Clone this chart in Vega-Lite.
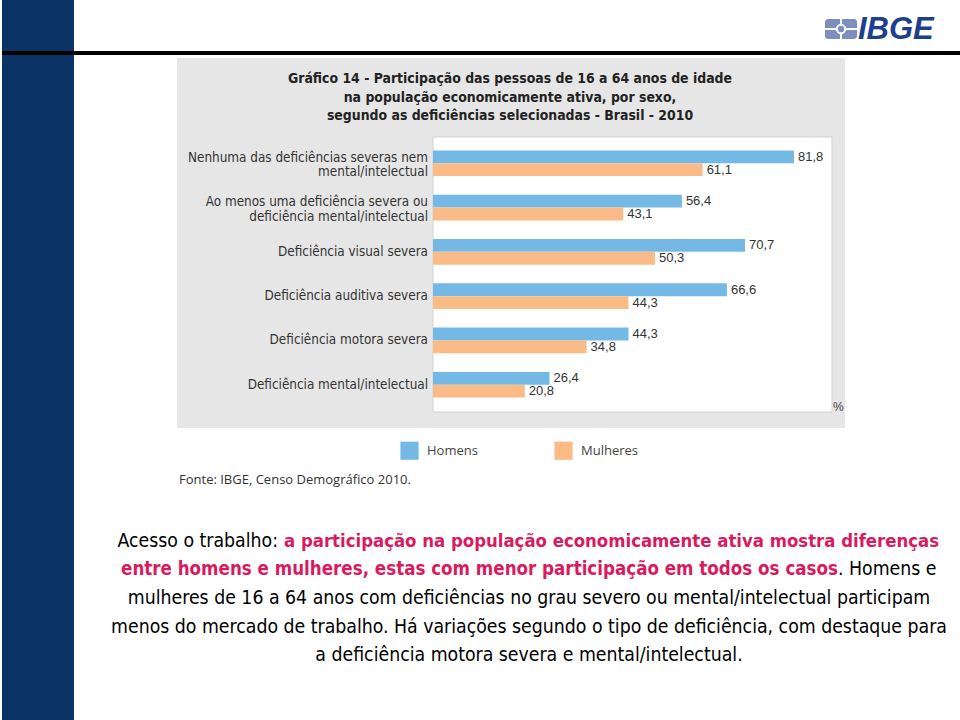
{
  "$schema": "https://vega.github.io/schema/vega-lite/v6.json",
  "width": 960,
  "height": 720,
  "autosize": {"type": "fit", "contains": "padding"},
  "padding": 0,
  "background": "white",
  "config": {
    "view": {"stroke": null},
    "locale": {"number": {"decimal": ",", "thousands": ".", "grouping": [3], "currency": ["R$", ""]}}
  },
  "datasets": {
    "bars": [
      {"cat": "Nenhuma das deficiências severas nem\nmental/intelectual", "sexo": "Homens", "valor": 81.8},
      {"cat": "Nenhuma das deficiências severas nem\nmental/intelectual", "sexo": "Mulheres", "valor": 61.1},
      {"cat": "Ao menos uma deficiência severa ou\ndeficiência mental/intelectual", "sexo": "Homens", "valor": 56.4},
      {"cat": "Ao menos uma deficiência severa ou\ndeficiência mental/intelectual", "sexo": "Mulheres", "valor": 43.1},
      {"cat": "Deficiência visual severa", "sexo": "Homens", "valor": 70.7},
      {"cat": "Deficiência visual severa", "sexo": "Mulheres", "valor": 50.3},
      {"cat": "Deficiência auditiva severa", "sexo": "Homens", "valor": 66.6},
      {"cat": "Deficiência auditiva severa", "sexo": "Mulheres", "valor": 44.3},
      {"cat": "Deficiência motora severa", "sexo": "Homens", "valor": 44.3},
      {"cat": "Deficiência motora severa", "sexo": "Mulheres", "valor": 34.8},
      {"cat": "Deficiência mental/intelectual", "sexo": "Homens", "valor": 26.4},
      {"cat": "Deficiência mental/intelectual", "sexo": "Mulheres", "valor": 20.8}
    ],
    "one": [{"k": 1}]
  },
  "layer": [
    {
      "data": {"name": "one"},
      "mark": {"type": "rect", "color": "#0b3466"},
      "encoding": {"x": {"value": 0}, "x2": {"value": 72}, "y": {"value": 0}, "y2": {"value": 720}}
    },
    {
      "data": {"name": "one"},
      "mark": {"type": "rule", "color": "#000000", "strokeWidth": 4},
      "encoding": {"x": {"value": 0}, "x2": {"value": 960}, "y": {"value": 53}}
    },
    {
      "data": {"name": "one"},
      "mark": {"type": "rect", "color": "#e6e6e6"},
      "encoding": {"x": {"value": 175}, "x2": {"value": 843}, "y": {"value": 58}, "y2": {"value": 428}}
    },
    {
      "data": {"name": "one"},
      "mark": {"type": "rect", "fill": "#ffffff", "stroke": "#d2d2d2", "strokeWidth": 1},
      "encoding": {"x": {"value": 431}, "x2": {"value": 830}, "y": {"value": 137}, "y2": {"value": 412}}
    },
    {
      "data": {"name": "one"},
      "mark": {"type": "text", "text": ["Gráfico 14 - Participação das pessoas de 16 a 64 anos de idade", "na população economicamente ativa, por sexo,", "segundo as deficiências selecionadas - Brasil - 2010"], "font": "DejaVu Sans Condensed, Liberation Sans", "fontWeight": "bold", "fontSize": 13.9, "lineHeight": 18.5, "align": "center", "baseline": "middle", "color": "#222222"},
      "encoding": {"x": {"value": 508}, "y": {"value": 79}}
    },
    {
      "data": {"name": "bars"},
      "mark": {"type": "bar"},
      "encoding": {
        "y": {"field": "cat", "type": "nominal", "sort": null, "axis": null, "scale": {"range": [138, 410], "paddingInner": 0.42, "paddingOuter": 0.28}},
        "yOffset": {"field": "sexo", "type": "nominal", "sort": ["Homens", "Mulheres"]},
        "x": {"field": "valor", "type": "quantitative", "axis": null, "scale": {"domain": [0, 100], "range": [431, 872.3]}},
        "color": {"field": "sexo", "type": "nominal", "title": null, "scale": {"domain": ["Homens", "Mulheres"], "range": ["#74b9e6", "#fbbb86"]},
          "legend": {"orient": "none", "legendX": 398, "legendY": 441, "direction": "horizontal", "symbolType": "square", "symbolSize": 330, "symbolStrokeWidth": 0, "symbolOpacity": 1, "labelFont": "Open Sans", "labelFontSize": 13, "labelColor": "#444444", "labelOffset": 8, "columnPadding": 76, "padding": 0}}
      }
    },
    {
      "data": {"name": "bars"},
      "mark": {"type": "text", "align": "left", "baseline": "middle", "dx": 4, "font": "Liberation Sans", "fontSize": 13, "color": "#333333"},
      "encoding": {
        "y": {"field": "cat", "type": "nominal", "sort": null},
        "yOffset": {"field": "sexo", "type": "nominal", "sort": ["Homens", "Mulheres"]},
        "x": {"field": "valor", "type": "quantitative"},
        "text": {"field": "valor", "type": "quantitative", "format": ".1f"}
      }
    },
    {
      "data": {"name": "bars"},
      "transform": [{"filter": "datum.sexo === 'Homens' && indexof(datum.cat, '\\n') < 0"}],
      "mark": {"type": "text", "align": "right", "baseline": "middle", "dx": -5, "font": "DejaVu Sans Condensed, Liberation Sans", "fontSize": 13.4, "color": "#333333"},
      "encoding": {
        "y": {"field": "cat", "type": "nominal", "sort": null},
        "x": {"datum": 0, "type": "quantitative"},
        "text": {"field": "cat"}
      }
    },
    {
      "data": {"name": "bars"},
      "transform": [{"filter": "datum.sexo === 'Homens' && indexof(datum.cat, '\\n') >= 0"}],
      "mark": {"type": "text", "align": "right", "baseline": "middle", "dx": -5, "dy": -5.5, "lineBreak": "\n", "lineHeight": 14.5, "font": "DejaVu Sans Condensed, Liberation Sans", "fontSize": 13.4, "color": "#333333"},
      "encoding": {
        "y": {"field": "cat", "type": "nominal", "sort": null},
        "x": {"datum": 0, "type": "quantitative"},
        "text": {"field": "cat"}
      }
    },
    {
      "data": {"name": "one"},
      "mark": {"type": "text", "text": "%", "align": "left", "baseline": "middle", "font": "Liberation Sans", "fontSize": 12, "color": "#444444"},
      "encoding": {"x": {"value": 831}, "y": {"value": 407}}
    },
    {
      "data": {"name": "one"},
      "mark": {"type": "text", "text": "Fonte: IBGE, Censo Demográfico 2010.", "align": "left", "baseline": "middle", "font": "Open Sans", "fontSize": 13, "color": "#333333"},
      "encoding": {"x": {"value": 177}, "y": {"value": 480}}
    },
    {
      "data": {"name": "one"},
      "mark": {"type": "rect", "color": "#7d8ec0", "cornerRadius": 3},
      "encoding": {"x": {"value": 823}, "x2": {"value": 855}, "y": {"value": 19}, "y2": {"value": 39}}
    },
    {
      "data": {"name": "one"},
      "mark": {"type": "rule", "color": "#ffffff", "strokeWidth": 2},
      "encoding": {"x": {"value": 823}, "x2": {"value": 855}, "y": {"value": 29}}
    },
    {
      "data": {"name": "one"},
      "mark": {"type": "rule", "color": "#ffffff", "strokeWidth": 2},
      "encoding": {"x": {"value": 839}, "y": {"value": 19}, "y2": {"value": 39}}
    },
    {
      "data": {"name": "one"},
      "mark": {"type": "point", "shape": "circle", "filled": true, "fill": "#7d8ec0", "stroke": "#ffffff", "strokeWidth": 2, "size": 70, "opacity": 1},
      "encoding": {"x": {"value": 839}, "y": {"value": 29}}
    },
    {
      "data": {"name": "one"},
      "mark": {"type": "text", "text": "IBGE", "align": "left", "baseline": "middle", "font": "Liberation Sans", "fontWeight": "bold", "fontStyle": "italic", "fontSize": 31, "color": "#1e3f8c"},
      "encoding": {"x": {"value": 856}, "y": {"value": 30}}
    },
    {
      "data": {"name": "one"},
      "mark": {"type": "text", "text": "Acesso o trabalho:", "align": "right", "baseline": "middle", "font": "DejaVu Sans Condensed, Liberation Sans", "fontSize": 19.3, "color": "#000000"},
      "encoding": {"x": {"value": 276}, "y": {"value": 541}}
    },
    {
      "data": {"name": "one"},
      "mark": {"type": "text", "text": "a participação na população economicamente ativa mostra diferenças", "align": "left", "baseline": "middle", "font": "DejaVu Sans Condensed, Liberation Sans", "fontWeight": "bold", "fontSize": 18.4, "color": "#d81b60"},
      "encoding": {"x": {"value": 282}, "y": {"value": 541}}
    },
    {
      "data": {"name": "one"},
      "mark": {"type": "text", "text": "entre homens e mulheres, estas com menor participação em todos os casos", "align": "right", "baseline": "middle", "font": "DejaVu Sans Condensed, Liberation Sans", "fontWeight": "bold", "fontSize": 18.6, "color": "#d81b60"},
      "encoding": {"x": {"value": 836}, "y": {"value": 569}}
    },
    {
      "data": {"name": "one"},
      "mark": {"type": "text", "text": ". Homens e", "align": "left", "baseline": "middle", "font": "DejaVu Sans Condensed, Liberation Sans", "fontSize": 19.3, "color": "#000000"},
      "encoding": {"x": {"value": 836}, "y": {"value": 569}}
    },
    {
      "data": {"name": "one"},
      "mark": {"type": "text", "text": ["mulheres de 16 a 64 anos com deficiências no grau severo ou mental/intelectual participam", "menos do mercado de trabalho. Há variações segundo o tipo de deficiência, com destaque para", "a deficiência motora severa e mental/intelectual."], "align": "center", "baseline": "middle", "lineHeight": 28.5, "font": "DejaVu Sans Condensed, Liberation Sans", "fontSize": 19.3, "color": "#000000"},
      "encoding": {"x": {"value": 527}, "y": {"value": 598}}
    }
  ]
}
